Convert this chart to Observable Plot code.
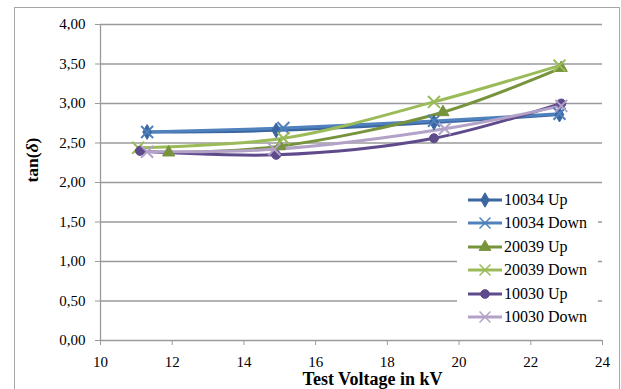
<!DOCTYPE html>
<html><head><meta charset="utf-8">
<script src="https://cdn.jsdelivr.net/npm/d3@7"></script>
<script src="https://cdn.jsdelivr.net/npm/@observablehq/plot@0.6"></script>
<style>
body{margin:0;background:#fff;}
#wrap{position:relative;width:621px;height:389px;overflow:hidden;font-family:'Liberation Serif',serif;}
#border{position:absolute;left:14px;top:7px;width:604px;height:400px;border:1px solid #a6a6a6;}
#chart{position:absolute;left:0;top:0;}
#chart svg text{font-family:'Liberation Serif',serif !important;font-variant:normal !important;}
#legend{position:absolute;left:457px;top:187px;width:141px;height:143px;background:#fff;}
.li{position:absolute;left:10px;height:20px;display:flex;align-items:center;font-size:16px;color:#000;white-space:nowrap;font-family:'Liberation Serif',serif;}
.li svg{margin-right:1px;}
</style></head>
<body><div id="wrap"><div id="border"></div><div id="chart"></div><div id="legend"></div></div>
<script>
const seriesNames = ["10034 Up","10034 Down","20039 Up","20039 Down","10030 Up","10030 Down"];
const seriesColors = ["#3b66a0","#4f81bd","#77933c","#9bbb59","#5f4b8b","#b3a2c7"];
const seriesSymbols = ["diamond","times","triangle","times","circle","times"];
const voltage10034Up   = [11.3, 14.9, 19.3, 22.8];
const tand10034Up      = [2.64, 2.66, 2.76, 2.86];
const voltage10034Down = [11.3, 15.1, 19.3, 22.8];
const tand10034Down    = [2.64, 2.69, 2.78, 2.87];
const voltage20039Up   = [11.9, 15.0, 19.55, 22.85];
const tand20039Up      = [2.38, 2.46, 2.89, 3.45];
const voltage20039Down = [11.05, 15.1, 19.3, 22.8];
const tand20039Down    = [2.44, 2.56, 3.02, 3.48];
const voltage10030Up   = [11.1, 14.9, 19.3, 22.85];
const tand10030Up      = [2.40, 2.35, 2.56, 3.00];
const voltage10030Down = [11.3, 14.85, 19.6, 22.85];
const tand10030Down    = [2.39, 2.42, 2.68, 2.97];
const xTicks = [10,12,14,16,18,20,22,24];
const yTicks = [0,0.5,1,1.5,2,2.5,3,3.5,4];

const vs = [voltage10034Up,voltage10034Down,voltage20039Up,voltage20039Down,voltage10030Up,voltage10030Down];
const ts = [tand10034Up,tand10034Down,tand20039Up,tand20039Down,tand10030Up,tand10030Down];
const data = [];
seriesNames.forEach((s,i)=>vs[i].forEach((v,j)=>data.push({series:s, v, t: ts[i][j]})));
const fmt = d => d3.format(".2f")(d).replace(".", ",");

const marks = [
  Plot.ruleY(yTicks, {stroke:"#9a9a9a", strokeWidth:1.3}),
  Plot.ruleX([10], {stroke:"#9a9a9a", strokeWidth:1.3}),
  Plot.axisY({ticks:yTicks, tickFormat:fmt, tickSize:5, tickPadding:10, stroke:"#9a9a9a", fontSize:15, fill:"#000", label:null}),
  Plot.axisX({ticks:xTicks, tickFormat:d=>String(d), tickSize:5, tickPadding:11, stroke:"#9a9a9a", fontSize:15, fill:"#000", label:null}),
];
seriesNames.forEach((s,i)=>{
  const d = data.filter(r=>r.series===s);
  marks.push(Plot.line(d, {x:"v", y:"t", stroke:seriesColors[i], strokeWidth:3, curve:"catmull-rom"}));
});
seriesNames.forEach((s,i)=>{
  const d = data.filter(r=>r.series===s);
  const sym = seriesSymbols[i];
  const filled = sym !== "times";
  marks.push(Plot.dot(d, {x:"v", y:"t", symbol:()=>sym, r: sym==="times"?5.5:4.5,
    fill: filled ? seriesColors[i] : "none", stroke: seriesColors[i], strokeWidth: filled?1:2}));
});
marks.push(Plot.text(["Test Voltage in kV"], {frameAnchor:"bottom", dx:21, dy:39, fontSize:18, fontWeight:"bold", fill:"#000", lineAnchor:"middle"}));
marks.push(Plot.text(["tan(δ)"], {frameAnchor:"left", dx:-68, rotate:-90, fontSize:17.5, fontWeight:"bold", fill:"#000", lineAnchor:"middle"}));

const chart = Plot.plot({
  width:621, height:389,
  marginLeft:100, marginRight:19, marginTop:24, marginBottom:49,
  style:{fontFamily:"'Liberation Serif', serif", background:"transparent", overflow:"visible"},
  x:{domain:[10,24], label:null},
  y:{domain:[0,4], label:null},
  symbol:{type:"identity"},
  marks
});
document.getElementById("chart").appendChild(chart);
chart.querySelectorAll("text").forEach(t=>{
  if (t.textContent === "tan(δ)") {
    const parts = ["tan(", "δ", ")"];
    t.textContent = "";
    parts.forEach((p,k)=>{
      const sp = document.createElementNS("http://www.w3.org/2000/svg","tspan");
      sp.textContent = p; if (k===1) sp.setAttribute("font-style","italic");
      t.appendChild(sp);
    });
  }
});

const leg = document.getElementById("legend");
seriesNames.forEach((s,i)=>{
  const div = document.createElement("div");
  div.className = "li";
  div.style.top = (3 + i*23.4) + "px";
  const sym = seriesSymbols[i];
  const svg = d3.create("svg").attr("width",36).attr("height",20);
  svg.append("line").attr("x1",1).attr("x2",35).attr("y1",10).attr("y2",10).attr("stroke",seriesColors[i]).attr("stroke-width",3);
  let path;
  if (sym==="diamond") path = d3.symbol(d3.symbolDiamond, 60)();
  else if (sym==="triangle") path = d3.symbol(d3.symbolTriangle, 60)();
  else if (sym==="circle") path = d3.symbol(d3.symbolCircle, 60)();
  else path = d3.symbol(d3.symbolTimes, 80)();
  svg.append("path").attr("d",path).attr("transform","translate(18,10)")
    .attr("fill", sym==="times"?"none":seriesColors[i]).attr("stroke",seriesColors[i]).attr("stroke-width", sym==="times"?1.5:1);
  div.appendChild(svg.node());
  const span = document.createElement("span"); span.textContent = s;
  div.appendChild(span);
  leg.appendChild(div);
});
</script>
</body></html>
